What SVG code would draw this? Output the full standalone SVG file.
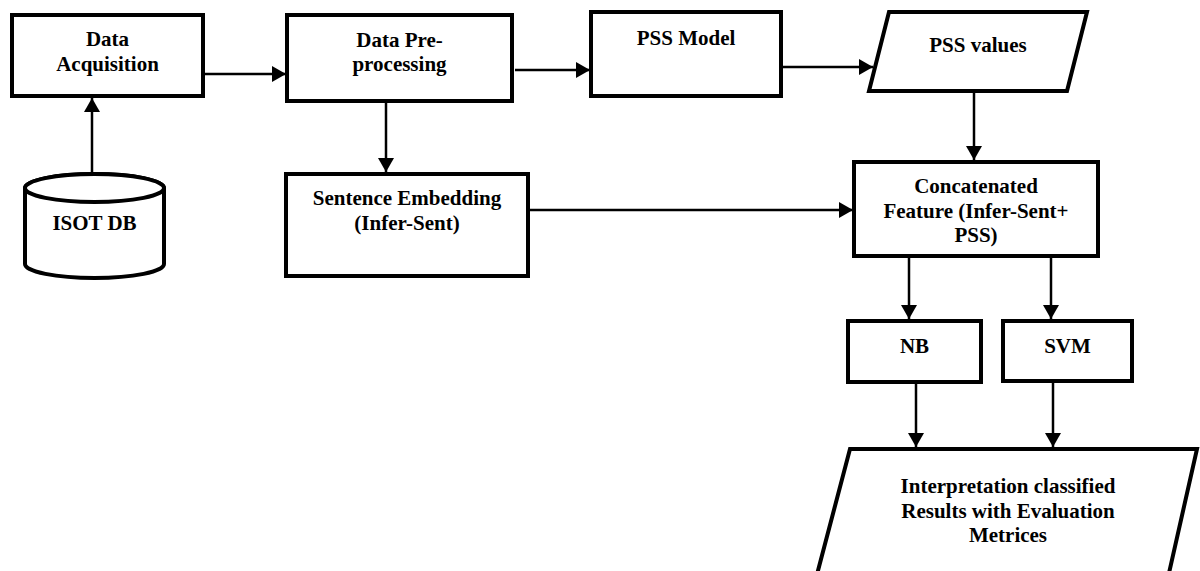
<svg xmlns="http://www.w3.org/2000/svg" width="1200" height="571" viewBox="0 0 1200 571">
<style>
.box{fill:#fff;stroke:#000;stroke-width:4}
.lbl{font-family:"Liberation Serif","Times New Roman",serif;font-weight:bold;font-size:21px;fill:#000;text-anchor:middle}
.con{stroke:#000;stroke-width:2.5;fill:none;marker-end:url(#ah)}
</style>
<defs>
<marker id="ah" markerUnits="userSpaceOnUse" markerWidth="16" markerHeight="16" refX="14" refY="8" orient="auto">
<path d="M0,0 L14,8 L0,16 Z" fill="#000"/>
</marker>
</defs>
<g id="data-acquisition">
<rect class="box" x="12" y="15" width="191" height="81"/>
<text class="lbl" x="107.5" y="46">Data</text>
<text class="lbl" x="107.5" y="71">Acquisition</text>
</g>
<g id="isot-db">
<path class="box" d="M25,188 L25,264 A69.5,14 0 0 0 164,264 L164,188 A69.5,14 0 0 0 25,188 Z"/>
<ellipse class="box" cx="94.5" cy="188" rx="69.5" ry="14"/>
<text class="lbl" x="94.5" y="230">ISOT DB</text>
</g>
<g id="data-preprocessing">
<rect class="box" x="287" y="15" width="225" height="86"/>
<text class="lbl" x="399.5" y="47">Data Pre-</text>
<text class="lbl" x="399.5" y="71">processing</text>
</g>
<g id="pss-model">
<rect class="box" x="591" y="12" width="190" height="84"/>
<text class="lbl" x="686" y="45">PSS Model</text>
</g>
<g id="pss-values">
<polygon class="box" points="889,12 1087,12 1067,91 869,91"/>
<text class="lbl" x="978" y="52">PSS values</text>
</g>
<g id="sentence-embedding">
<rect class="box" x="286" y="174" width="242" height="102"/>
<text class="lbl" x="407" y="205">Sentence Embedding</text>
<text class="lbl" x="407" y="230">(Infer-Sent)</text>
</g>
<g id="concatenated-feature">
<rect class="box" x="854" y="162" width="244" height="94"/>
<text class="lbl" x="976" y="193">Concatenated</text>
<text class="lbl" x="976" y="218">Feature (Infer-Sent+</text>
<text class="lbl" x="976" y="242">PSS)</text>
</g>
<g id="nb">
<rect class="box" x="848" y="321" width="133" height="61"/>
<text class="lbl" x="914.5" y="353">NB</text>
</g>
<g id="svm">
<rect class="box" x="1003" y="321" width="129" height="60"/>
<text class="lbl" x="1067.5" y="353">SVM</text>
</g>
<g id="interpretation">
<polygon class="box" points="850,449 1197,449 1167,582 815,582"/>
<text class="lbl" x="1008" y="493">Interpretation classified</text>
<text class="lbl" x="1008" y="518">Results with Evaluation</text>
<text class="lbl" x="1008" y="542">Metrices</text>
</g>
<g id="connectors">
<line class="con" x1="92" y1="173" x2="92" y2="98"/>
<line class="con" x1="205" y1="74" x2="286" y2="74"/>
<line class="con" x1="515" y1="70" x2="590" y2="70"/>
<line class="con" x1="783" y1="67" x2="873" y2="67"/>
<line class="con" x1="386" y1="103" x2="386" y2="172"/>
<line class="con" x1="974" y1="93" x2="974" y2="160"/>
<line class="con" x1="530" y1="210" x2="853" y2="210"/>
<line class="con" x1="909" y1="258" x2="909" y2="319"/>
<line class="con" x1="1051" y1="258" x2="1051" y2="319"/>
<line class="con" x1="916" y1="384" x2="916" y2="447"/>
<line class="con" x1="1053" y1="383" x2="1053" y2="447"/>
</g>
</svg>
